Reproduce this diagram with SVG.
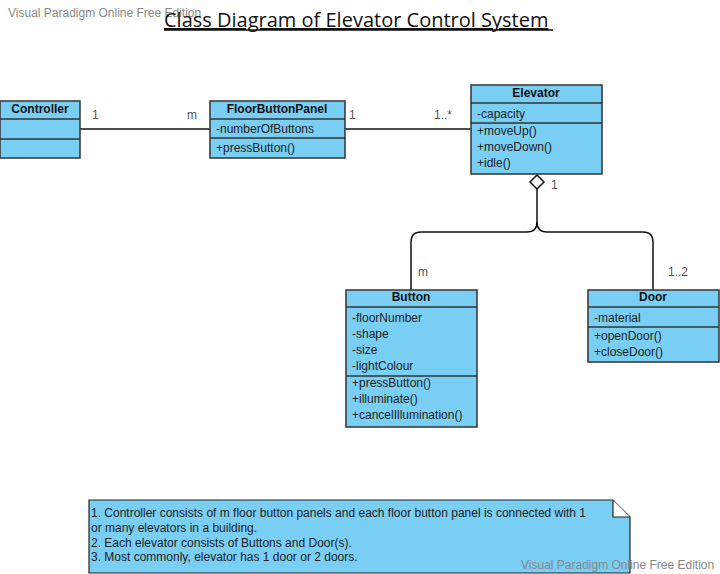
<svg xmlns="http://www.w3.org/2000/svg" width="720" height="574" viewBox="0 0 720 574">
<style>
.box{fill:#79CEF4;stroke:#333;stroke-width:1.5}
.sep{stroke:#333;stroke-width:1.5}
.hd{font-family:"Liberation Sans",Arial,sans-serif;font-size:12px;font-weight:bold;fill:#111;text-anchor:middle}
.at{font-family:"Liberation Sans",Arial,sans-serif;font-size:12px;fill:#222}
.ml{font-family:"Liberation Sans",Arial,sans-serif;font-size:12px;fill:#555}
.wm{font-family:"Liberation Sans",Arial,sans-serif;font-size:12px;fill:#888}
.ln{fill:none;stroke:#111;stroke-width:1.5}
</style>
<rect width="720" height="574" fill="#fff"/>
<text class="wm" x="8" y="17">Visual Paradigm Online Free Edition</text>
<text x="164" y="27" font-family="'Open Sans',sans-serif" font-size="20" fill="#111" text-decoration="underline">Class Diagram of Elevator Control System </text>
<line x1="164" y1="30" x2="553" y2="30" stroke="#111" stroke-width="1.5"/>

<g id="connectors">
<line class="ln" x1="80" y1="129" x2="210" y2="129"/>
<line class="ln" x1="345" y1="129" x2="471" y2="129"/>
<path class="ln" d="M537 189 V222 Q537 232 527 232 H421 Q411 232 411 242 V290"/>
<path class="ln" d="M537 222 Q537 232 547 232 H643 Q653 232 653 242 V290"/>
<polygon points="537,175 544,182 537,189 530,182" fill="#fff" stroke="#111" stroke-width="1.5"/>
<text class="ml" x="92" y="119">1</text>
<text class="ml" x="187" y="119">m</text>
<text class="ml" x="349" y="119">1</text>
<text class="ml" x="434" y="119">1..*</text>
<text class="ml" x="551" y="189">1</text>
<text class="ml" x="418" y="276">m</text>
<text class="ml" x="668" y="276">1..2</text>
</g>

<g id="Controller">
<rect class="box" x="0" y="101" width="80" height="57"/>
<line class="sep" x1="0" y1="119" x2="80" y2="119"/>
<line class="sep" x1="0" y1="139" x2="80" y2="139"/>
<text class="hd" x="40" y="113">Controller</text>
</g>

<g id="FloorButtonPanel">
<rect class="box" x="210" y="101" width="135" height="57"/>
<line class="sep" x1="210" y1="119" x2="345" y2="119"/>
<line class="sep" x1="210" y1="138" x2="345" y2="138"/>
<text class="hd" x="277" y="113">FloorButtonPanel</text>
<text class="at" x="216" y="133">-numberOfButtons</text>
<text class="at" x="216" y="152">+pressButton()</text>
</g>

<g id="Elevator">
<rect class="box" x="471" y="85" width="131" height="89"/>
<line class="sep" x1="471" y1="103" x2="602" y2="103"/>
<line class="sep" x1="471" y1="123" x2="602" y2="123"/>
<text class="hd" x="536" y="97">Elevator</text>
<text class="at" x="477" y="118">-capacity</text>
<text class="at" x="477" y="135">+moveUp()</text>
<text class="at" x="477" y="151">+moveDown()</text>
<text class="at" x="477" y="167">+idle()</text>
</g>

<g id="Button">
<rect class="box" x="346" y="290" width="131" height="137"/>
<line class="sep" x1="346" y1="307" x2="477" y2="307"/>
<line class="sep" x1="346" y1="376" x2="477" y2="376"/>
<text class="hd" x="411" y="301">Button</text>
<text class="at" x="352" y="322">-floorNumber</text>
<text class="at" x="352" y="338">-shape</text>
<text class="at" x="352" y="354">-size</text>
<text class="at" x="352" y="370">-lightColour</text>
<text class="at" x="352" y="387">+pressButton()</text>
<text class="at" x="352" y="403">+illuminate()</text>
<text class="at" x="352" y="419">+cancelIllumination()</text>
</g>

<g id="Door">
<rect class="box" x="588" y="290" width="131" height="72"/>
<line class="sep" x1="588" y1="307" x2="719" y2="307"/>
<line class="sep" x1="588" y1="327" x2="719" y2="327"/>
<text class="hd" x="653" y="301">Door</text>
<text class="at" x="594" y="322">-material</text>
<text class="at" x="594" y="340">+openDoor()</text>
<text class="at" x="594" y="356">+closeDoor()</text>
</g>

<g id="Note">
<path d="M89 500 H613 L630 517 V573 H89 Z" fill="#79CEF4" stroke="#222" stroke-width="1.2"/>
<path d="M613 500 V517 H630" fill="#fff" stroke="#222" stroke-width="1.2"/>
<text class="at" x="91" y="517">1. Controller consists of m floor button panels and each floor button panel is connected with 1</text>
<text class="at" x="91" y="532">or many elevators in a building.</text>
<text class="at" x="91" y="547">2. Each elevator consists of Buttons and Door(s).</text>
<text class="at" x="91" y="561">3. Most commonly, elevator has 1 door or 2 doors.</text>
</g>
<text class="wm" x="521" y="569">Visual Paradigm Online Free Edition</text>
</svg>
